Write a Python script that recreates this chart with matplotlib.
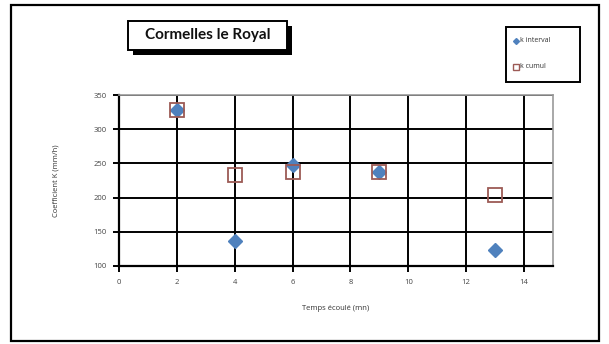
import matplotlib
matplotlib.use("Agg")
import matplotlib.pyplot as plt
from matplotlib.patches import Rectangle
from matplotlib.lines import Line2D

# Infiltration test data
temps_interval = [2, 4, 6, 9, 13]
k_interval = [328, 137, 248, 238, 124]
temps_cumul = [2, 4, 6, 9, 13]
k_cumul = [328, 233, 238, 238, 204]

x_ticks = [0, 2, 4, 6, 8, 10, 12, 14]
y_ticks = [100, 150, 200, 250, 300, 350]

W, H = 609, 344
plt.rcParams['font.family'] = ['Open Sans', 'DejaVu Sans']

fig = plt.figure(figsize=(W / 100, H / 100), dpi=100)
fig.patch.set_facecolor('white')

def fx(px):
    return px / W

def fy(py):
    return 1 - py / H

# outer chart frame
fig.add_artist(Rectangle((fx(11), fy(341)), fx(599) - fx(11), fy(5) - fy(341),
                         transform=fig.transFigure, fill=False,
                         edgecolor='black', linewidth=1.6))

ax = fig.add_axes([fx(119), fy(266), fx(553) - fx(119), fy(95) - fy(266)])
ax.set_xlim(0, 15)
ax.set_ylim(100, 350)
ax.set_xticks(x_ticks)
ax.set_yticks(y_ticks)
ax.tick_params(axis='both', labelsize=5.5, colors='#444444', length=4,
               width=1.4, direction='out', pad=5)
ax.tick_params(axis='both', color='black')
ax.grid(True, color='black', linewidth=1.4)
ax.set_axisbelow(True)
for s in ['left', 'bottom']:
    ax.spines[s].set_color('black')
    ax.spines[s].set_linewidth(1.6)
for s in ['top', 'right']:
    ax.spines[s].set_color('#999999')
    ax.spines[s].set_linewidth(1.2)

ax.plot(temps_interval, k_interval, linestyle='none', marker='D',
        markersize=7.5, color='#4F81BD', markeredgecolor='#4F81BD',
        label='k interval', zorder=3)
ax.plot(temps_cumul, k_cumul, linestyle='none', marker='s',
        markersize=10, markerfacecolor='none', markeredgecolor='#9C5A55',
        markeredgewidth=1.3, label='k cumul', zorder=4)

ax.set_xlabel('Temps écoulé (mn)', fontsize=5.5, color='#333333', labelpad=14)
ax.set_ylabel('Coefficient K (mm/h)', fontsize=5.5, color='#333333', labelpad=24)

# title box with drop shadow
fig.add_artist(Rectangle((fx(133), fy(55)), fx(292) - fx(133), fy(26) - fy(55),
                         transform=fig.transFigure, facecolor='black',
                         edgecolor='black', linewidth=0))
fig.add_artist(Rectangle((fx(128), fy(50)), fx(287) - fx(128), fy(21) - fy(50),
                         transform=fig.transFigure, facecolor='white',
                         edgecolor='black', linewidth=1.4))
fig.text(fx(208), fy(35.5), 'Cormelles le Royal', ha='center', va='center',
         fontsize=11, fontweight='bold', color='#111111',
         family=['Lato', 'DejaVu Sans'])

# legend box
fig.add_artist(Rectangle((fx(506), fy(82)), fx(580) - fx(506), fy(27) - fy(82),
                         transform=fig.transFigure, facecolor='white',
                         edgecolor='black', linewidth=1.4))
fig.add_artist(Line2D([fx(516)], [fy(41)], transform=fig.transFigure,
                      marker='D', markersize=3, color='#4F81BD', linestyle='none'))
fig.text(fx(520), fy(41), 'k interval', ha='left', va='center',
         fontsize=5, color='#333333')
fig.add_artist(Line2D([fx(516)], [fy(67)], transform=fig.transFigure,
                      marker='s', markersize=5, markerfacecolor='none',
                      markeredgecolor='#9C5A55', markeredgewidth=1,
                      linestyle='none'))
fig.text(fx(520), fy(67), 'k cumul', ha='left', va='center',
         fontsize=5, color='#333333')

fig.savefig('out.png', dpi=100, facecolor='white')
